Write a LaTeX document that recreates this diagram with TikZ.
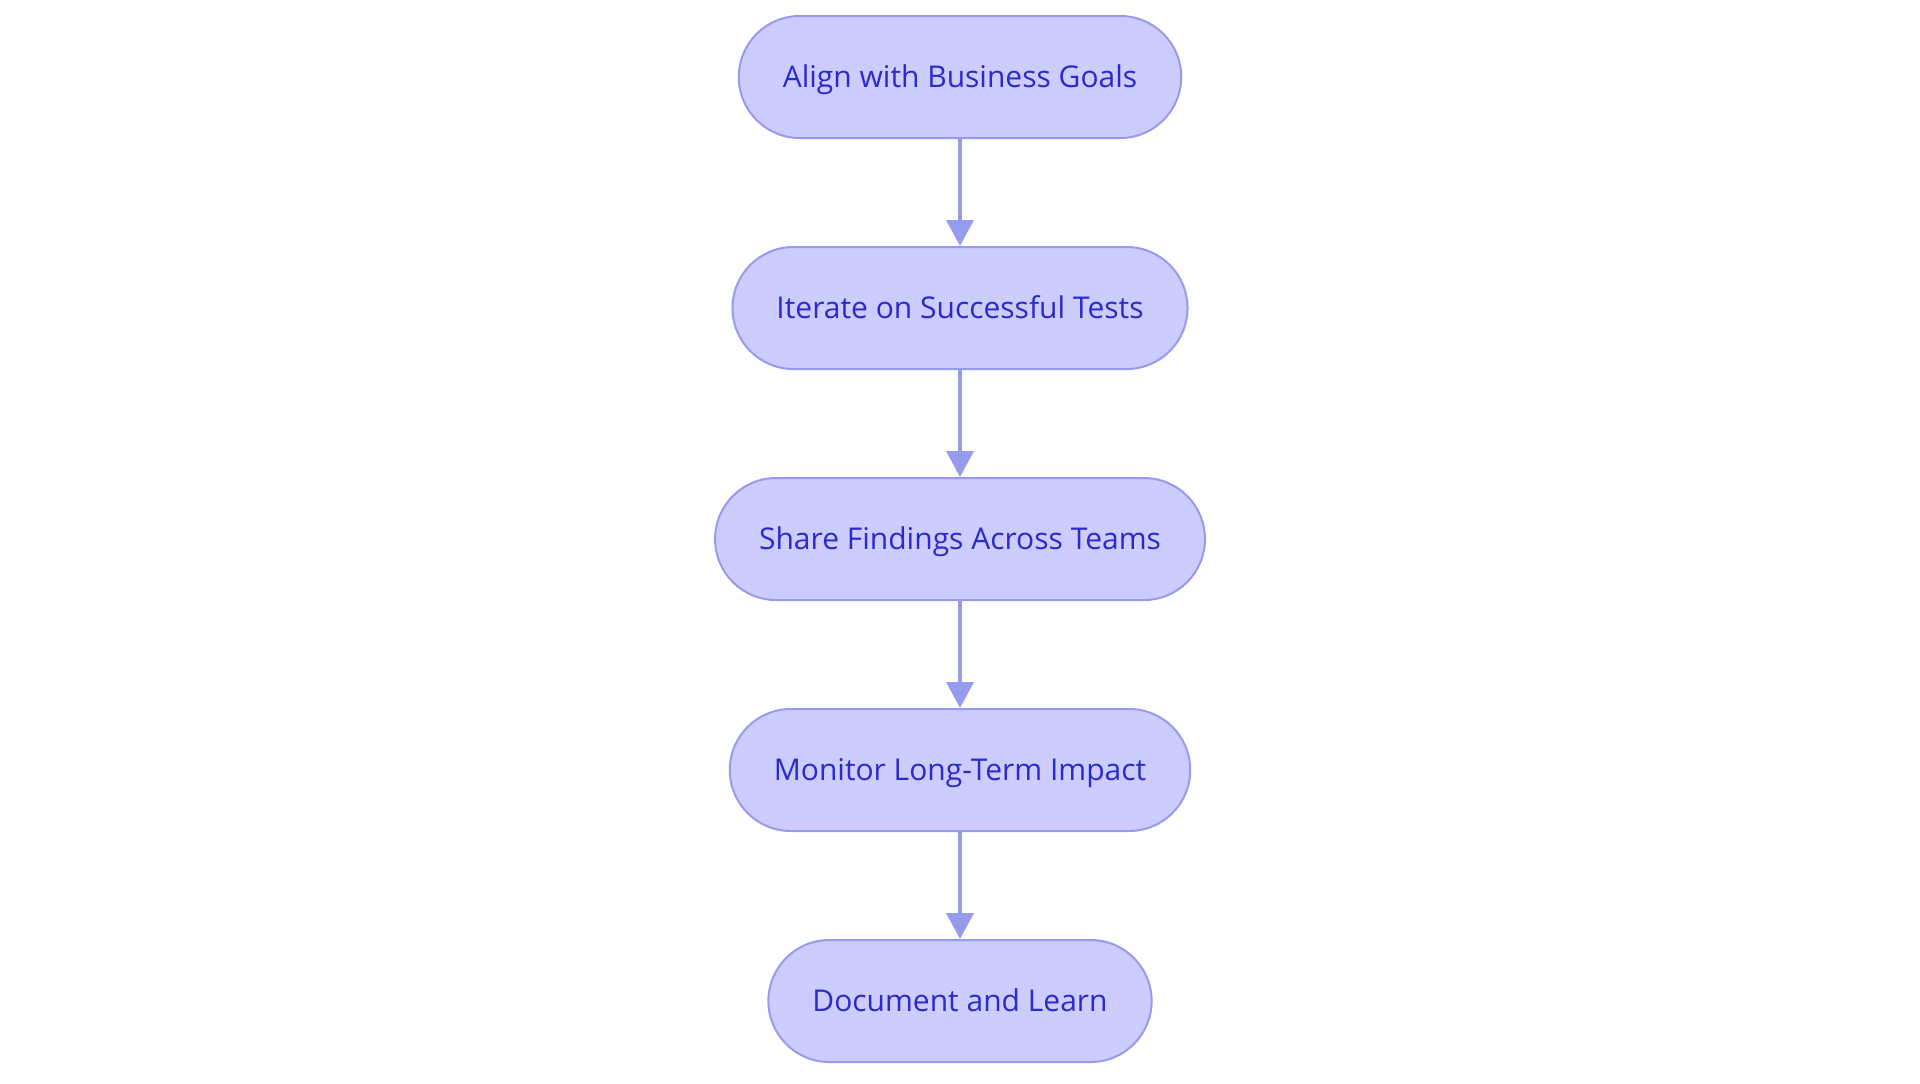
\documentclass[tikz,border=0pt]{standalone}
\usepackage{fontspec}
\setmainfont{Open Sans}
\usepackage{xcolor}
\usetikzlibrary{arrows.meta,calc,shapes}
\definecolor{boxfill}{RGB}{204,204,255}
\definecolor{boxline}{RGB}{150,155,238}
\definecolor{boxtext}{RGB}{42,42,205}
\begin{document}
\begin{tikzpicture}[x=0.5pt,y=-0.5pt]

\tikzset{step box/.style = {shape=rectangle,rounded corners=30.5pt,draw=boxline,line width=1pt,fill=boxfill,
  text=boxtext,font=\fontsize{15}{18}\selectfont,minimum height=61pt,inner xsep=22pt,text height=10pt,text depth=0pt}}
\tikzset{edge/.style = {draw=boxline,line width=2pt,-{Triangle[length=13pt,width=13.5pt]}}}

\useasboundingbox (0,0) rectangle (1920,1083);

% steps
\node[step box] (goals) at (960,77) {Align with Business Goals};
\node[step box] (iterate) at (960,308) {Iterate on Successful Tests};
\node[step box] (share) at (960,539) {Share Findings Across Teams};
\node[step box] (monitor) at (960,770) {Monitor Long-Term Impact};
\node[step box] (document) at (960,1001) {Document and Learn};

%edges
\draw[edge] (goals) to (iterate);
\draw[edge] (iterate) to (share);
\draw[edge] (share) to (monitor);
\draw[edge] (monitor) to (document);
\end{tikzpicture}
\end{document}
